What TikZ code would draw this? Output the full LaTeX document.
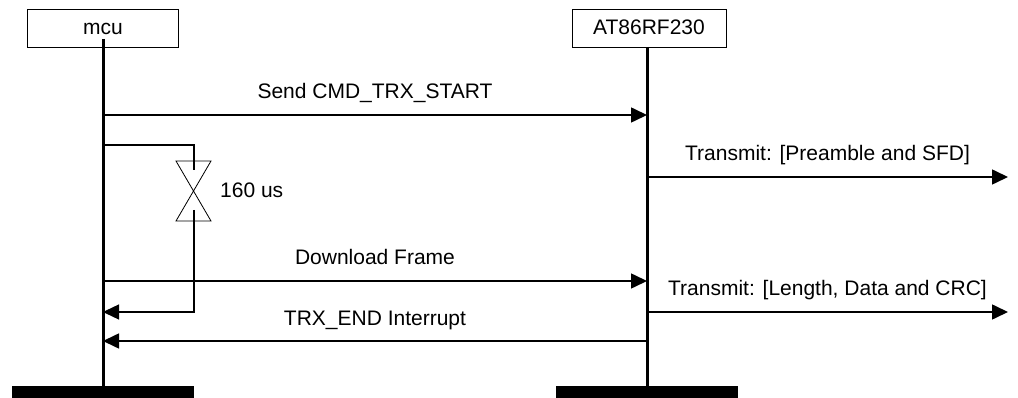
\documentclass[tikz,border=0pt]{standalone}
\usepackage{fontspec}
\setmainfont{Liberation Sans}
\usetikzlibrary{arrows.meta}
\tikzset{
  lifebox/.style={draw, line width=0.8pt, minimum width=151pt, minimum height=38pt, inner sep=0pt,
    text height=14pt, text depth=0pt},
  lifeend/.style={fill=black, minimum width=182pt, minimum height=13pt, inner sep=0pt},
  lifeline/.style={line width=3pt},
  msg/.style={line width=1.6pt, -{Triangle[length=16pt,width=15pt]}},
  msglabel/.style={midway, yshift=16pt, anchor=base},
  timerline/.style={line width=1.4pt}
}

\begin{document}
\begin{tikzpicture}[x=1pt, y=-1pt, font=\fontsize{21}{25}\selectfont]
    \useasboundingbox (0,0) rectangle (1018,398);

    \node [lifebox] (mcu) at (103,28) {mcu};
    \node [lifebox, minimum width=154pt] (rf) at (649,28) {AT86RF230};
    \node [lifeend] (mcuend) at (103,392.5) {};
    \node [lifeend] (rfend) at (647,392.5) {};

    \coordinate (mcutop) at (103,39);
    \coordinate (rftop) at (647,47);
    \draw [lifeline] (mcutop) -- (mcuend.north);
    \draw [lifeline] (rftop) -- (rfend.north);

    % messages
    \coordinate (a1) at (103,115);  \coordinate (b1) at (647,115);
    \coordinate (b2) at (647,177);  \coordinate (o2) at (1008,177);
    \coordinate (a5) at (103,281);  \coordinate (b5) at (647,281);
    \coordinate (b6) at (647,312);  \coordinate (o6) at (1008,312);
    \coordinate (b7) at (647,341);  \coordinate (a7) at (103,341);

    \draw [msg] (a1) -- (b1) node [msglabel] {Send CMD\_TRX\_START};
    \draw [msg] (b2) -- (o2) node [msglabel] {Transmit: [Preamble and SFD]};
    \draw [msg] (a5) -- (b5) node [msglabel] {Download Frame};
    \draw [msg] (b6) -- (o6) node [msglabel] {Transmit: [Length, Data and CRC]};
    \draw [msg] (b7) -- (a7) node [msglabel] {TRX\_END Interrupt};

    % timer
    \coordinate (t0) at (103,145);
    \coordinate (t1) at (194,145);
    \coordinate (t2) at (194,170);
    \coordinate (t3) at (194,210);
    \coordinate (t4) at (194,312);
    \coordinate (t5) at (103,312);
    \draw [line width=0.8pt] (176,161) -- (211,161) -- (176,221) -- (211,221) -- cycle;
    \node [anchor=base west, inner sep=0pt] (delay) at (220,198) {160 us};
    \draw [timerline] (t0) -- (t1) -- (t2);
    \draw [timerline, -{Triangle[length=16pt,width=15pt]}] (t3) -- (t4) -- (t5);
\end{tikzpicture}
\end{document}
